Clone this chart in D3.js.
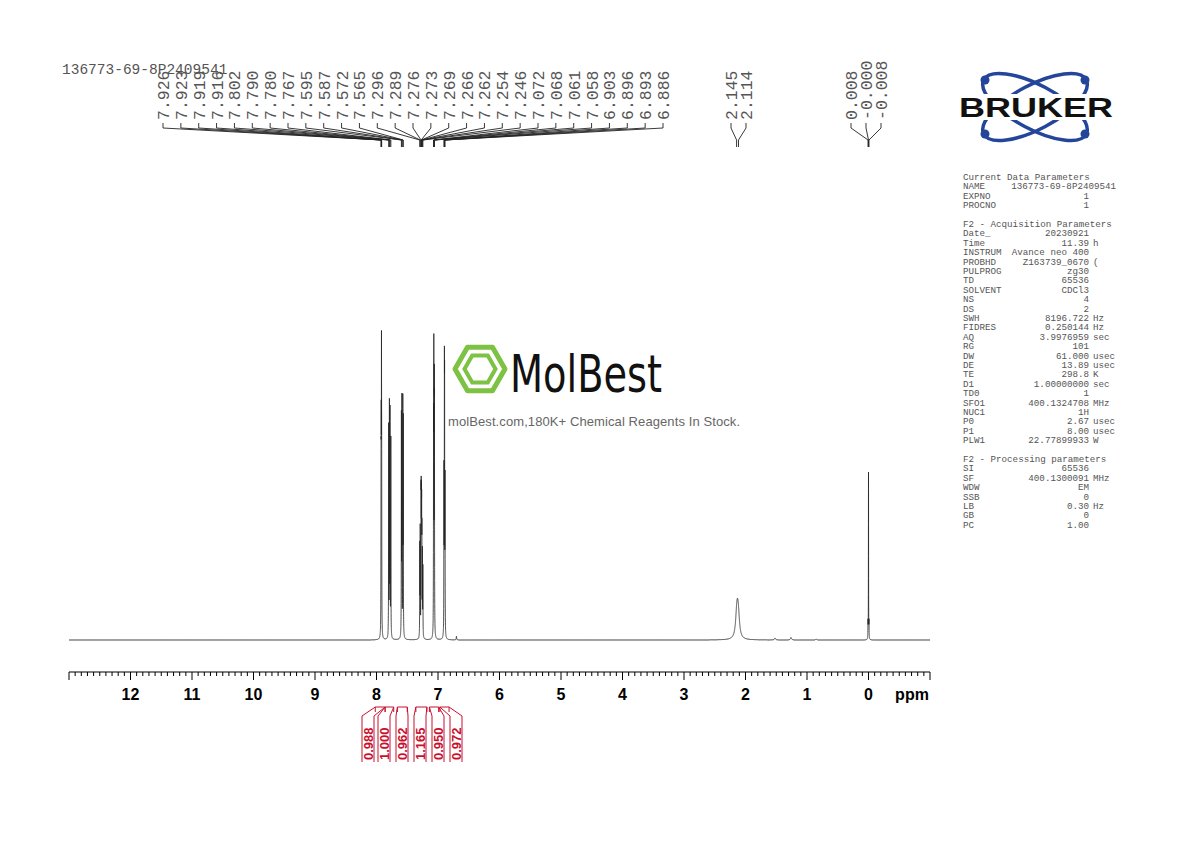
<!DOCTYPE html>
<html><head><meta charset="utf-8">
<script src="https://cdn.jsdelivr.net/npm/d3@7"></script>
<style>body{margin:0;background:#fff}</style>
</head><body>
<div id="chart"></div>
<script>
// peaks: ppm, relative height, half width (ppm)
const peaks = [
  [7.926,0.45,0.0018],[7.923,0.50,0.0018],[7.919,0.77,0.0018],[7.916,0.45,0.0018],
  [7.802,0.68,0.0018],[7.790,0.74,0.0018],[7.780,0.72,0.0018],[7.767,0.64,0.0018],
  [7.595,0.70,0.0018],[7.587,0.75,0.0018],[7.572,0.74,0.0018],[7.565,0.68,0.0018],
  [7.296,0.29,0.0018],[7.289,0.34,0.0018],[7.276,0.38,0.0018],[7.273,0.34,0.0018],
  [7.269,0.32,0.0018],[7.266,0.31,0.0018],[7.262,0.29,0.0018],[7.254,0.26,0.0018],[7.246,0.22,0.0018],
  [7.072,0.60,0.0018],[7.068,0.83,0.0018],[7.061,0.67,0.0018],[7.058,0.59,0.0018],
  [6.903,0.51,0.0018],[6.896,0.73,0.0018],[6.893,0.66,0.0018],[6.886,0.48,0.0018],
  [6.700,0.012,0.004],[2.145,0.04,0.02],[2.130,0.085,0.025],[2.114,0.04,0.02],
  [1.52,0.006,0.01],[1.26,0.008,0.01],[0.85,0.003,0.01],
  [0.008,0.05,0.0015],[0.000,0.54,0.0015],[-0.008,0.05,0.0015]
];
const peakLabels = ["7.926","7.923","7.919","7.916","7.802","7.790","7.780","7.767",
  "7.595","7.587","7.572","7.565","7.296","7.289","7.276","7.273","7.269","7.266",
  "7.262","7.254","7.246","7.072","7.068","7.061","7.058","6.903","6.896","6.893","6.886"];
const groupLabels2 = ["2.145","2.114"];
const groupLabels0 = ["0.008","-0.000","-0.008"];
const integrals = [
  {from:8.02,to:7.86,value:"0.988"},{from:7.86,to:7.72,value:"1.000"},
  {from:7.66,to:7.50,value:"0.962"},{from:7.36,to:7.18,value:"1.165"},
  {from:7.14,to:6.99,value:"0.950"},{from:6.97,to:6.82,value:"0.972"}
];
const xTicks = d3.range(0,13);
const params = [
  ["Current Data Parameters"],["NAME","136773-69-8P2409541","","wide"],["EXPNO","1"],["PROCNO","1"],[""],
  ["F2 - Acquisition Parameters"],["Date_","20230921"],["Time","11.39","h"],["INSTRUM","Avance neo 400"],
  ["PROBHD","Z163739_0670","("],["PULPROG","zg30"],["TD","65536"],["SOLVENT","CDCl3"],["NS","4"],["DS","2"],
  ["SWH","8196.722","Hz"],["FIDRES","0.250144","Hz"],["AQ","3.9976959","sec"],["RG","101"],
  ["DW","61.000","usec"],["DE","13.89","usec"],["TE","298.8","K"],["D1","1.00000000","sec"],["TD0","1"],
  ["SFO1","400.1324708","MHz"],["NUC1","1H"],["P0","2.67","usec"],["P1","8.00","usec"],["PLW1","22.77899933","W"],[""],
  ["F2 - Processing parameters"],["SI","65536"],["SF","400.1300091","MHz"],["WDW","EM"],["SSB","0"],
  ["LB","0.30","Hz"],["GB","0"],["PC","1.00"]
];

const W = 1190, H = 842;
const svg = d3.select("#chart").append("svg").attr("width",W).attr("height",H);
const mono = "'Liberation Mono','DejaVu Sans Mono',monospace";

const x = d3.scaleLinear().domain([13,-1]).range([69,930]);
const y = d3.scaleLinear().domain([0,1]).range([640,331]);

// spectrum curve
const step = 0.0005;
const grid = d3.range(-1, 13+step, step);
const spec = grid.map(p => {
  let v = 0;
  for (const [c,h,w] of peaks) { const d=(p-c)/w; v += h/(1+d*d); }
  return [p, v];
});
svg.append("path").datum(spec)
  .attr("fill","none").attr("stroke","#222").attr("stroke-width",0.8)
  .attr("d", d3.line().x(d=>x(d[0])).y(d=>y(d[1])));

// axis
const axisY = 672;
svg.append("line").attr("x1",69).attr("x2",930).attr("y1",axisY).attr("y2",axisY).attr("stroke","#000").attr("stroke-width",1.2);
svg.selectAll(".minor").data(d3.range(-10,131).map(d=>d/10)).join("line")
  .attr("x1",d=>x(d)).attr("x2",d=>x(d)).attr("y1",axisY).attr("y2",d=>Math.abs(d-Math.round(d))<1e-6?axisY+8:axisY+4)
  .attr("stroke","#000").attr("stroke-width",1);
svg.selectAll(".xlab").data(xTicks).join("text")
  .attr("x",d=>x(d)).attr("y",700).attr("text-anchor","middle")
  .style("font-family","'Liberation Sans',Arial,sans-serif").style("font-weight","bold").style("font-size","16px")
  .text(d=>d);
svg.append("text").attr("x",912).attr("y",700).attr("text-anchor","middle")
  .style("font-family","'Liberation Sans',Arial,sans-serif").style("font-weight","bold").style("font-size","16px").text("ppm");

// title
svg.append("text").attr("x",62).attr("y",74).style("font-family",mono).style("font-size","14.5px").attr("fill","#555").text("136773-69-8P2409541");

// peak labels
function labelGroup(labels, x0, dx, targetPpm) {
  labels.forEach((t,i) => {
    const lx = x0 + i*dx;
    const px = x(targetPpm(i));
    svg.append("text").attr("transform",`translate(${lx+6},120) rotate(-90)`)
      .style("font-family",mono).style("font-size","16.5px").attr("fill","#555").text(t);
    svg.append("path").attr("fill","none").attr("stroke","#222").attr("stroke-width",0.9)
      .attr("d",`M${lx},123 L${lx},128 L${px},140 L${px},147`);
  });
}
labelGroup(peakLabels, 163, (663-163)/(peakLabels.length-1), i => +peakLabels[i]);
labelGroup(groupLabels2, 731, 15, i => +groupLabels2[i]);
labelGroup(groupLabels0, 851, 15, i => +groupLabels0[i]);

// integrals
const labX = [368,384,402,420,438,456];
integrals.forEach((g,i) => {
  const a = x(g.from), b = x(g.to), lx = labX[i];
  svg.append("path").attr("fill","none").attr("stroke","#c8102e").attr("stroke-width",1)
    .attr("d",`M${a},712 L${a},707 L${b},707 L${b},712 M${a},707 L${lx-6},716 L${lx-6},762 M${b},707 L${lx+6},716 L${lx+6},762`);
  svg.append("text").attr("transform",`translate(${lx+5},760) rotate(-90)`)
    .style("font-family","'Liberation Sans',Arial,sans-serif").style("font-weight","bold").style("font-size","13px")
    .attr("fill","#c8102e").text(g.value);
});

// MolBest watermark
const hx = 480, hy = 369, hr = 25;
const hex = d3.range(6).map(k => [hx+hr*Math.cos(Math.PI/3*k), hy+hr*Math.sin(Math.PI/3*k)]);
svg.append("polygon").attr("points",hex.join(" ")).attr("fill","none").attr("stroke","#7dc242").attr("stroke-width",5).attr("stroke-linejoin","round");
svg.append("polygon").attr("points",hex.map(([a,b])=>[hx+(a-hx)*0.62,hy+(b-hy)*0.62]).join(" ")).attr("fill","none").attr("stroke","#7dc242").attr("stroke-width",4);
svg.append("text").attr("x",510).attr("y",392).style("font-family","'DejaVu Sans Condensed','Liberation Sans Narrow',sans-serif")
  .style("font-size","52px").attr("textLength",152).attr("lengthAdjust","spacingAndGlyphs").attr("fill","#111").text("MolBest");
svg.append("text").attr("x",448).attr("y",426).style("font-family","'Liberation Sans',Arial,sans-serif").style("font-size","13px")
  .attr("fill","#666").attr("textLength",292).text("molBest.com,180K+ Chemical Reagents In Stock.");

// Bruker logo
const bx = 1035, by = 107;
[-28,28].forEach(r => {
  svg.append("ellipse").attr("cx",bx).attr("cy",by).attr("rx",58).attr("ry",22)
    .attr("transform",`rotate(${r},${bx},${by})`).attr("fill","none").attr("stroke","#24469a").attr("stroke-width",3.5);
});
[[-50,-27],[50,-27],[-50,27],[50,27]].forEach(([dx,dy]) =>
  svg.append("circle").attr("cx",bx+dx).attr("cy",by+dy).attr("r",4.5).attr("fill","#24469a"));
svg.append("rect").attr("x",958).attr("y",94).attr("width",156).attr("height",26).attr("fill","#fff");
svg.append("text").attr("x",1036).attr("y",117).attr("text-anchor","middle")
  .style("font-family","'Liberation Sans',Arial,sans-serif").style("font-weight","bold").style("font-size","27px")
  .attr("textLength",154).attr("lengthAdjust","spacingAndGlyphs").attr("fill","#111").text("BRUKER");

// parameters panel
params.forEach((p,i) => {
  const ty = 180 + i*9.4;
  const g = svg.append("g").style("font-family",mono).style("font-size","9.2px").attr("fill","#555");
  g.append("text").attr("x",963).attr("y",ty).text(p[0]);
  if (p[1] !== undefined) {
    g.append("text").attr("x",p[3]==="wide"?1116:1089).attr("y",ty).attr("text-anchor","end").text(p[1]);
    if (p[2]) g.append("text").attr("x",1093).attr("y",ty).text(p[2]);
  }
});
</script>
</body></html>
